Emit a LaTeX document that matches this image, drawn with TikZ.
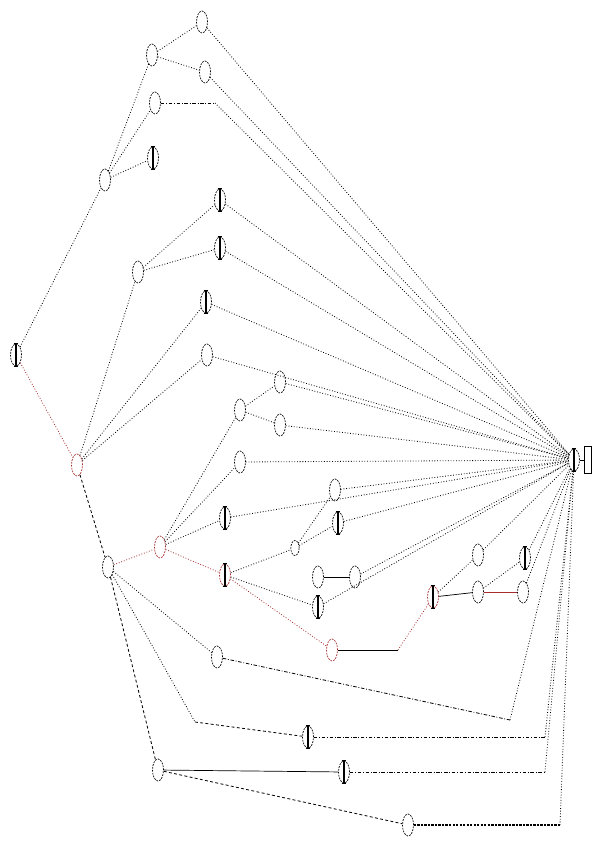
\documentclass[tikz,border=0pt]{standalone}
\usepackage{tikz}
\usetikzlibrary{shapes.geometric, arrows.meta}
\definecolor{pathred}{RGB}{165,45,45}
\tikzset{
  state/.style={ellipse, draw, line width=0.6pt, dash pattern=on 1.5pt off 1pt,
                inner sep=0pt, minimum width=0.33cm, minimum height=0.66cm},
  hotstate/.style={state, draw=pathred},
  sink/.style={rectangle, draw, thin, inner sep=0pt,
               minimum width=0.2cm, minimum height=0.8cm},
  link/.style={line width=0.7pt, dash pattern=on 0.7pt off 1.6pt},
  dlink/.style={line width=0.7pt, dash pattern=on 2.5pt off 2pt},
  dotdash/.style={line width=0.7pt, dash pattern=on 3pt off 1.5pt on 0.7pt off 1.5pt},
  hot/.style={link, draw=pathred},
  bar/.style={line width=0.9pt, line cap=butt},
}

\begin{document}
\begin{tikzpicture}[x=0.03cm, y=-0.03cm]
  \useasboundingbox (0,0) rectangle (592,841);

  % states
  \node[state]    (root) at (16,355)  {};
  \node[state]    (b1)   at (105,180) {};
  \node[state]    (c1)   at (152,55)  {};
  \node[state]    (d1)   at (202,22)  {};
  \node[state]    (e1)   at (205,72)  {};
  \node[state]    (f1)   at (155,103) {};
  \node[state]    (g1)   at (153,158) {};
  \node[hotstate] (mid)  at (77,465)  {};
  \node[state]    (h1)   at (138,272) {};
  \node[state]    (i1)   at (220,200) {};
  \node[state]    (j1)   at (220,248) {};
  \node[state]    (k1)   at (206,302) {};
  \node[state]    (l1)   at (207,355) {};
  \node[state]    (r1)   at (108,567) {};
  \node[hotstate] (s1)   at (160,547) {};
  \node[state]    (n1)   at (240,410) {};
  \node[state]    (o1)   at (280,382) {};
  \node[state]    (p1)   at (280,425) {};
  \node[state]    (q1)   at (240,462) {};
  \node[state]    (t1)   at (225,518) {};
  \node[hotstate] (u1)   at (225,575) {};
  \node[state, minimum height=0.45cm, minimum width=0.25cm] (x1) at (295,548) {};
  \node[state]    (v1)   at (335,490) {};
  \node[state]    (w1)   at (338,523) {};
  \node[state]    (y1)   at (318,577) {};
  \node[state]    (y2)   at (355,577) {};
  \node[state]    (z1)   at (318,607) {};
  \node[hotstate] (aa)   at (332,650) {};
  \node[hotstate] (ab)   at (433,597) {};
  \node[state]    (ac)   at (478,592) {};
  \node[state]    (ad)   at (523,592) {};
  \node[state]    (ae)   at (478,555) {};
  \node[state]    (af)   at (525,558) {};
  \node[state]    (ag)   at (217,657) {};
  \node[state]    (ah)   at (308,737) {};
  \node[state]    (ai)   at (158,770) {};
  \node[state]    (aj)   at (344,772) {};
  \node[state]    (ak)   at (408,825) {};
  \node[state]    (hub)  at (574,460) {};
  \node[sink]     (out)  at (588,460) {};

  % corners
  \coordinate (cA) at (398,650);
  \coordinate (cB) at (215,103);
  \coordinate (cC) at (195,722);
  \coordinate (cD) at (510,720);
  \coordinate (cE) at (545,737);
  \coordinate (cF) at (545,772);
  \coordinate (cG) at (560,825);

  % bars in the barred states
  \foreach \n in {root,g1,i1,j1,k1,t1,u1,w1,z1,ab,af,ah,aj,hub} {
    \draw[bar] (\n.north) -- (\n.south);
    \draw[bar] ([xshift=-2pt]\n.north) -- ([xshift=2pt]\n.north);
    \draw[bar] ([xshift=-2pt]\n.south) -- ([xshift=2pt]\n.south);
  }

  % tree
  \draw[link] (root) -- (b1);
  \draw[hot]  (root) -- (mid);
  \draw[link] (b1) -- (c1);
  \draw[link] (b1) -- (f1);
  \draw[link] (b1) -- (g1);
  \draw[link] (c1) -- (d1);
  \draw[link] (c1) -- (e1);
  \draw[link] (mid) -- (h1);
  \draw[link] (h1) -- (i1);
  \draw[link] (h1) -- (j1);
  \draw[link] (mid) -- (k1);
  \draw[link] (mid) -- (l1);
  \draw[dlink] (mid) -- (r1);
  \draw[hot]  (r1) -- (s1);
  \draw[link] (s1) -- (n1);
  \draw[link] (s1) -- (q1);
  \draw[link] (s1) -- (t1);
  \draw[hot]  (s1) -- (u1);
  \draw[link] (n1) -- (o1);
  \draw[link] (n1) -- (p1);
  \draw[link] (u1) -- (x1);
  \draw[link] (x1) -- (v1);
  \draw[link] (x1) -- (w1);
  \draw[semithick] (y1) -- (y2);
  \draw[link] (u1) -- (z1);
  \draw[hot]  (u1) -- (aa);
  \draw[semithick] (aa) -- (cA);
  \draw[hot]  (cA) -- (ab);
  \draw[semithick] (ab) -- (ac);
  \draw[semithick, pathred] (ac) -- (ad);
  \draw[link] (ab) -- (ae);
  \draw[link] (ac) -- (af);
  \draw[link] (r1) -- (ag);
  \draw[link] (r1) -- (cC);
  \draw[dlink] (cC) -- (ah);
  \draw[dlink] (r1) -- (ai);
  \draw[semithick] (ai) -- (aj);
  \draw[dlink] (ai) -- (ak);

  % into the hub
  \foreach \n in {d1,e1,i1,j1,k1,l1,o1,p1,q1,v1,w1,y2,t1,z1,ae,af,ad} {
    \draw[link] (\n) -- (hub);
  }
  \draw[dotdash] (f1) -- (cB);
  \draw[link] (cB) -- (hub);
  \draw[dotdash] (ag) -- (cD);
  \draw[link] (cD) -- (hub);
  \draw[dotdash] (ah) -- (cE);
  \draw[link] (cE) -- (hub);
  \draw[dotdash] (aj) -- (cF);
  \draw[link] (cF) -- (hub);
  \draw[line width=0.9pt, dash pattern=on 2pt off 1pt] (ak) -- (cG);
  \draw[link] (cG) -- (hub);
  \draw[thin] (hub) -- (out);
\end{tikzpicture}
\end{document}
